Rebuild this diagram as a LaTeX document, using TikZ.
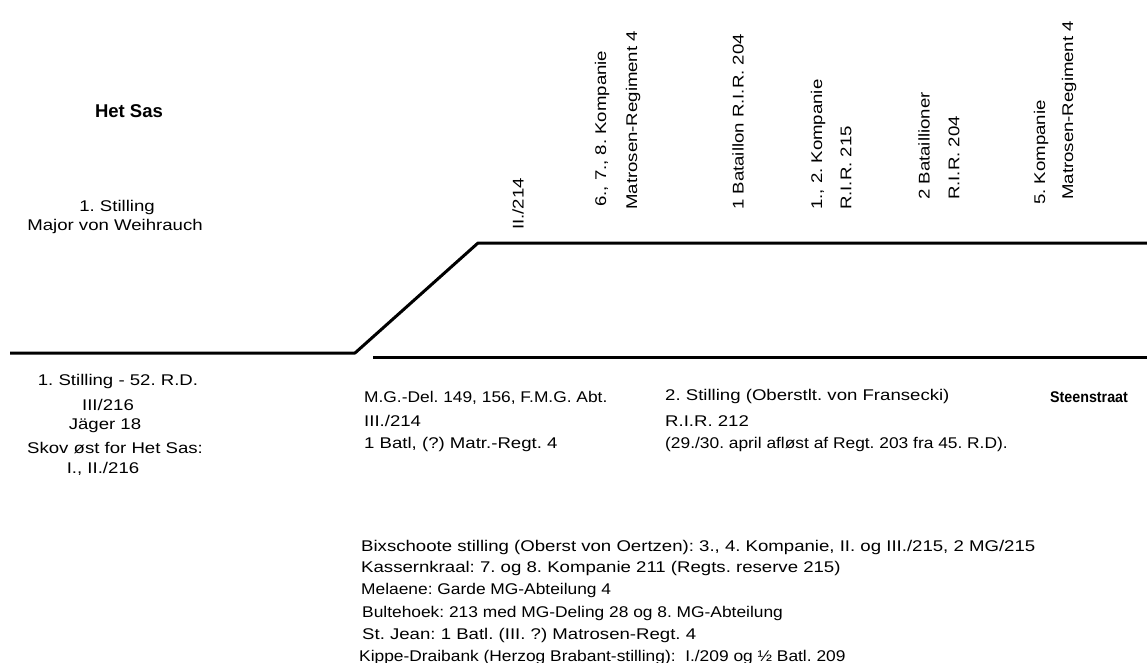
\documentclass[tikz,border=0pt]{standalone}
\usepackage{fontspec}
\setmainfont{Liberation Sans}
\newfontfamily\widefont[FakeStretch=1.2]{Liberation Sans}
\newfontfamily\snugfont[FakeStretch=1.12]{Liberation Sans}
\newfontfamily\narrowfont[FakeStretch=0.92]{Liberation Sans}
\usetikzlibrary{positioning}
\frenchspacing

\begin{document}
\begin{tikzpicture}[x=1pt,y=-1pt,
  lbl/.style={font=\widefont\fontsize{15.5}{18}\selectfont,inner sep=0pt},
  snug/.style={font=\snugfont\fontsize{15.5}{18}\selectfont},
  vlbl/.style={lbl,rotate=90,anchor=west},
  hlbl/.style={lbl,anchor=west},
  front/.style={line width=3pt,line join=round}]
\useasboundingbox (0,0) rectangle (1147,663);

% front line
\coordinate (fl0) at (10,353);
\coordinate (fl1) at (355,353);
\coordinate (fl2) at (478,243);
\coordinate (fl3) at (1147,243);
\coordinate (bl0) at (373,357);
\coordinate (bl1) at (1147,357);
\draw[front] (fl0) -- (fl1) -- (fl2) -- (fl3);
\draw[front] (bl0) -- (bl1);

% top left
\node[lbl,font=\bfseries\fontsize{18.5}{22}\selectfont] (hetsas) at (129,111) {Het Sas};
\node[lbl] (stil1) at (117,207) {1. Stilling};
\node[lbl] (major) at (115,226) {Major von Weihrauch};

% units above the line
\node[vlbl] (u1) at (518,230) {II./214};
\node[vlbl] (u2a) at (602,207) {6., 7., 8. Kompanie};
\node[vlbl] (u2b) at (633,210) {Matrosen-Regiment 4};
\node[vlbl] (u3) at (738,210) {1 Bataillon R.I.R. 204};
\node[vlbl] (u4a) at (818,210) {1., 2. Kompanie};
\node[vlbl] (u4b) at (846,210) {R.I.R. 215};
\node[vlbl] (u5a) at (924,200) {2 Bataillioner};
\node[vlbl] (u5b) at (954,200) {R.I.R. 204};
\node[vlbl] (u6a) at (1041,205) {5. Kompanie};
\node[vlbl] (u6b) at (1069,200) {Matrosen-Regiment 4};

% left block below
\node[lbl] (rd52) at (118,381) {1. Stilling - 52. R.D.};
\node[lbl] (r216) at (108,405) {III/216};
\node[lbl] (jag) at (105,426) {Jäger 18};
\node[lbl] (skov) at (115,448) {Skov øst for Het Sas:};
\node[lbl] (i216) at (103,469) {I., II./216};

% middle blocks below
\node[hlbl,snug] (mg) at (364,398) {M.G.-Del. 149, 156, F.M.G. Abt.};
\node[hlbl] (r214) at (364,421) {III./214};
\node[hlbl] (batl) at (364,444) {1 Batl, (?) Matr.-Regt. 4};
\node[hlbl] (stil2) at (665,396) {2. Stilling (Oberstlt. von Fransecki)};
\node[hlbl] (r212) at (665,421) {R.I.R. 212};
\node[hlbl,snug] (aflost) at (665,444) {(29./30. april afløst af Regt. 203 fra 45. R.D).};
\node[hlbl,font=\narrowfont\bfseries\fontsize{15.5}{18}\selectfont] (steen) at (1050,397) {Steenstraat};

% rear positions
\node[hlbl] (bix) at (361,547) {Bixschoote stilling (Oberst von Oertzen): 3., 4. Kompanie, II. og III./215, 2 MG/215};
\node[hlbl] (kas) at (361,568) {Kassernkraal: 7. og 8. Kompanie 211 (Regts. reserve 215)};
\node[hlbl,snug] (mel) at (361,590) {Melaene: Garde MG-Abteilung 4};
\node[hlbl,snug] (bul) at (362,613) {Bultehoek: 213 med MG-Deling 28 og 8. MG-Abteilung};
\node[hlbl] (jean) at (362,635) {St. Jean: 1 Batl. (III. ?) Matrosen-Regt. 4};
\node[hlbl,snug] (kip) at (359,657) {Kippe-Draibank (Herzog Brabant-stilling):\ \ I./209 og ½ Batl. 209};
\end{tikzpicture}
\end{document}
